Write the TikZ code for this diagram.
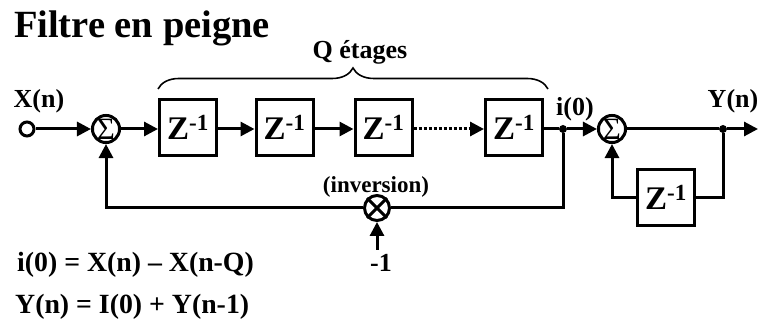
\documentclass[tikz,border=0pt]{standalone}
\usepackage{fontspec}
\setmainfont{Liberation Serif}
\usetikzlibrary{arrows.meta,positioning,calc,decorations.pathreplacing}

\begin{document}
\begin{tikzpicture}[
    x=1pt, y=-1pt,
    zbox/.style={draw, line width=3pt, minimum width=57pt, minimum height=56pt, inner sep=0pt, font=\bfseries\fontsize{33}{33}\selectfont},
    sumnode/.style={draw, circle, line width=3pt, minimum size=25pt, inner sep=0pt, font=\fontsize{31}{31}\selectfont},
    wire/.style={line width=3pt, -{Triangle[length=14pt,width=14pt]}},
    line/.style={line width=3pt},
    dot/.style={circle, fill=black, minimum size=8pt, inner sep=0pt},
    lab/.style={font=\bfseries\fontsize{26}{26}\selectfont, inner sep=0pt}
  ]
  \useasboundingbox (0,0) rectangle (758,320);

  \node[lab, font=\bfseries\fontsize{38.5}{38.5}\selectfont] (title) at (142,28) {Filtre en peigne};

  % delay line
  \node[draw, circle, line width=3pt, minimum size=14pt, inner sep=0pt] (in) at (27,129) {};
  \node[sumnode] (S1) at (106,129) {Σ};
  \node[zbox] (Z1) at (188,127.5) {Z\textsuperscript{-1}};
  \node[zbox] (Z2) at (284.5,127.5) {Z\textsuperscript{-1}};
  \node[zbox] (Z3) at (383.5,127.5) {Z\textsuperscript{-1}};
  \node[zbox] (Z4) at (514,127.5) {Z\textsuperscript{-1}};
  \node[dot] (J1) at (563,129) {};
  \node[sumnode] (S2) at (612,129) {Σ};
  \node[dot] (J2) at (723,129) {};
  \coordinate (out) at (758,129);
  \node[zbox] (Z5) at (666,197.5) {Z\textsuperscript{-1}};

  % inversion
  \node[draw, circle, line width=3pt, minimum size=25pt, inner sep=0pt] (M) at (377,208) {};
  \draw[line] (M.north west) -- (M.south east);
  \draw[line] (M.north east) -- (M.south west);
  \coordinate (Mfree) at (377,250);
  \node[lab] (moins) at (381,263) {-1};
  \node[lab, font=\bfseries\fontsize{23}{23}\selectfont] (inv) at (376,187) {(inversion)};

  % labels
  \node[lab] (Xn) at (39,101) {X(n)};
  \node[lab] (i0) at (575,109) {i(0)};
  \node[lab] (Yn) at (733,101) {Y(n)};
  \node[lab] (etages) at (360,52) {Q étages};
  \node[lab, anchor=west, font=\bfseries\fontsize{27.8}{27.8}\selectfont] (eq1) at (17,265) {i(0) = X(n) -- X(n-Q)};
  \node[lab, anchor=west, font=\bfseries\fontsize{27.8}{27.8}\selectfont] (eq2) at (15,307) {Y(n) = I(0) + Y(n-1)};

  % brace
  \draw[line width=1.6pt, decorate, decoration={brace, amplitude=21pt, aspect=0.5}] ($(Z1.north west)+(0,-9)$) -- ($(Z4.north east)+(4,-9)$);

  % wires
  \draw[wire] (in) -- (S1);
  \draw[wire] (S1) -- (Z1.west |- S1);
  \draw[wire] (Z1.east |- S1) -- (Z2.west |- S1);
  \draw[wire] (Z2.east |- S1) -- (Z3.west |- S1);
  \draw[line, dotted] (Z3.east |- J1) -- ($(Z4.west |- J1)+(-14,0)$);
  \draw[wire] ($(Z4.west |- J1)+(-15,0)$) -- (Z4.west |- J1);
  \draw[line] (Z4.east |- J1) -- (J1);
  \draw[wire] (J1) -- (S2);
  \draw[line] (S2) -- (J2);
  \draw[wire] (J2) -- (out);

  % feedback
  \draw[line] (J1) |- (M);
  \draw[wire] (M) -| (S1);
  \draw[wire] (Mfree) -- (M);
  \draw[line] (J2) |- (Z5);
  \draw[wire] (Z5) -| (S2);
\end{tikzpicture}
\end{document}
